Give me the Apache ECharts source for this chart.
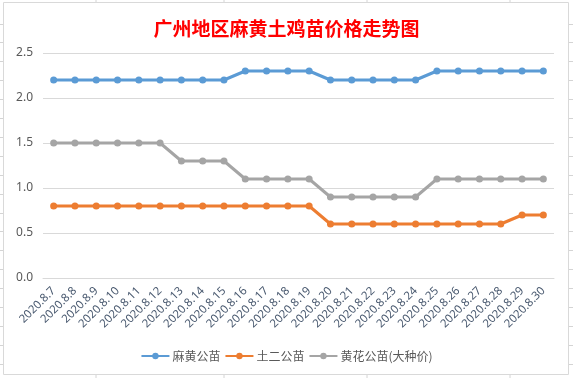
<!DOCTYPE html>
<html>
<head>
<meta charset="utf-8">
<script src="https://cdn.jsdelivr.net/npm/echarts@6/dist/echarts.min.js"></script>
<style>
  html, body { margin: 0; padding: 0; background: #fff; }
  #chart { width: 573px; height: 378px; }
</style>
</head>
<body>
<div id="chart"></div>
<script>
// 日期
const dates = [
  '2020.8.7', '2020.8.8', '2020.8.9', '2020.8.10', '2020.8.11', '2020.8.12',
  '2020.8.13', '2020.8.14', '2020.8.15', '2020.8.16', '2020.8.17', '2020.8.18',
  '2020.8.19', '2020.8.20', '2020.8.21', '2020.8.22', '2020.8.23', '2020.8.24',
  '2020.8.25', '2020.8.26', '2020.8.27', '2020.8.28', '2020.8.29', '2020.8.30'
]
// 价格
const mahuang = [2.2, 2.2, 2.2, 2.2, 2.2, 2.2, 2.2, 2.2, 2.2, 2.3, 2.3, 2.3,
  2.3, 2.2, 2.2, 2.2, 2.2, 2.2, 2.3, 2.3, 2.3, 2.3, 2.3, 2.3]
const tuer = [0.8, 0.8, 0.8, 0.8, 0.8, 0.8, 0.8, 0.8, 0.8, 0.8, 0.8, 0.8,
  0.8, 0.6, 0.6, 0.6, 0.6, 0.6, 0.6, 0.6, 0.6, 0.6, 0.7, 0.7]
const huanghua = [1.5, 1.5, 1.5, 1.5, 1.5, 1.5, 1.3, 1.3, 1.3, 1.1, 1.1, 1.1,
  1.1, 0.9, 0.9, 0.9, 0.9, 0.9, 1.1, 1.1, 1.1, 1.1, 1.1, 1.1]
const seriesNames = ['麻黄公苗', '土二公苗', '黄花公苗(大种价)']
const colors = ['#5B9BD5', '#ED7D31', '#A5A5A5']

const chart = echarts.init(document.getElementById('chart'))

// 背景表格线
const bg = []
;[96, 224, 367, 510].forEach(x => {
  bg.push({ type: 'line', shape: { x1: x, y1: 0, x2: x, y2: 2 }, style: { stroke: '#d4d4d4', lineWidth: 1 } })
  bg.push({ type: 'line', shape: { x1: x, y1: 375, x2: x, y2: 378 }, style: { stroke: '#d4d4d4', lineWidth: 1 } })
})
for (let y = 23.5; y < 375; y += 18.9) {
  const yy = Math.round(y) + 0.5
  bg.push({ type: 'line', shape: { x1: 0, y1: yy, x2: 3, y2: yy }, style: { stroke: '#d4d4d4', lineWidth: 1 } })
  bg.push({ type: 'line', shape: { x1: 569, y1: yy, x2: 573, y2: yy }, style: { stroke: '#d4d4d4', lineWidth: 1 } })
}
bg.push({
  type: 'rect',
  shape: { x: 3.5, y: 2.5, width: 565, height: 372 },
  style: { fill: 'none', stroke: '#d9d9d9', lineWidth: 1 }
})

const makeSeries = (name, data, color) => ({
  name: name,
  type: 'line',
  data: data,
  symbol: 'circle',
  symbolSize: 7,
  lineStyle: { width: 3, color: color },
  itemStyle: { color: color },
  animation: false
})

const option = {
  animation: false,
  title: {
    text: '广州地区麻黄土鸡苗价格走势图',
    left: 'center',
    top: 14,
    textStyle: {
      fontFamily: 'Noto Sans CJK SC',
      fontSize: 19,
      fontWeight: 'bold',
      color: '#FF0000'
    }
  },
  graphic: bg,
  legend: {
    data: seriesNames,
    bottom: 11,
    left: 'center',
    itemWidth: 28,
    itemHeight: 8,
    itemGap: 4,
    textStyle: { fontFamily: 'Noto Sans CJK SC', fontSize: 12, color: '#595959', padding: [0, 0, 0, -2] }
  },
  grid: {
    left: 43,
    right: 19,
    top: 53,
    bottom: 100
  },
  xAxis: {
    type: 'category',
    data: dates,
    boundaryGap: true,
    axisLine: { show: true, lineStyle: { color: '#d9d9d9' } },
    axisTick: { show: false },
    axisLabel: {
      interval: 0,
      rotate: 45,
      margin: 11,
      fontFamily: 'Noto Sans',
      fontSize: 11.5,
      color: '#4a5a70'
    }
  },
  yAxis: {
    type: 'value',
    min: 0,
    max: 2.5,
    interval: 0.5,
    axisLine: { show: false },
    axisTick: { show: false },
    axisLabel: {
      margin: 10,
      fontFamily: 'Noto Sans',
      fontSize: 12,
      color: '#595959',
      formatter: v => v.toFixed(1)
    },
    splitLine: { lineStyle: { color: '#d9d9d9' } }
  },
  series: [
    makeSeries(seriesNames[0], mahuang, colors[0]),
    makeSeries(seriesNames[1], tuer, colors[1]),
    makeSeries(seriesNames[2], huanghua, colors[2])
  ]
}

chart.setOption(option)
</script>
</body>
</html>
